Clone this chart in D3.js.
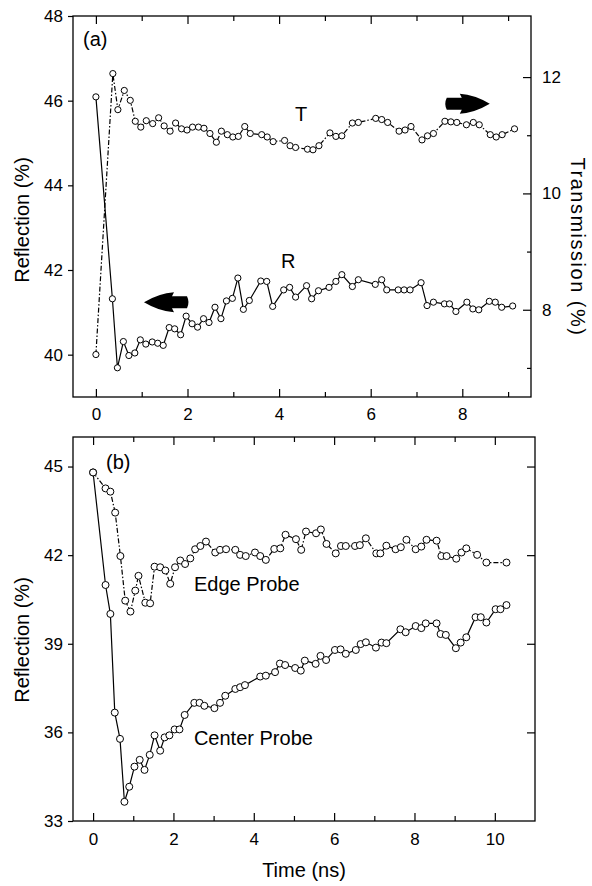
<!DOCTYPE html>
<html>
<head>
<meta charset="utf-8">
<script src="https://cdn.jsdelivr.net/npm/d3@7/dist/d3.min.js"></script>
<style>
  html, body { margin: 0; padding: 0; background: #fff; }
  svg { display: block; }
  text { font-family: "Liberation Sans", Arial, sans-serif; fill: #000; }
</style>
</head>
<body>
<script>
// ---- Panel (a): reflection R (left axis) and transmission T (right axis) ----
const timeR = [0, 0.36, 0.47, 0.6, 0.72, 0.85, 0.97, 1.09, 1.23, 1.35, 1.47, 1.6, 1.72, 1.85, 1.97, 2.1, 2.22, 2.35, 2.47, 2.6, 2.73, 2.85, 2.98, 3.1, 3.22, 3.35, 3.6, 3.73, 3.86, 4.1, 4.23, 4.36, 4.6, 4.71, 4.86, 5.09, 5.24, 5.37, 5.6, 5.73, 6.1, 6.24, 6.35, 6.6, 6.73, 6.86, 7.1, 7.23, 7.37, 7.61, 7.72, 7.86, 8.1, 8.23, 8.36, 8.59, 8.72, 8.86, 9.1];
const reflR = [46.09, 41.32, 39.69, 40.31, 39.98, 40.04, 40.35, 40.25, 40.3, 40.27, 40.22, 40.64, 40.61, 40.47, 40.91, 40.73, 40.65, 40.85, 40.76, 41.12, 40.85, 41.27, 41.33, 41.81, 41.07, 41.28, 41.74, 41.73, 41.14, 41.53, 41.59, 41.36, 41.63, 41.32, 41.51, 41.59, 41.73, 41.89, 41.61, 41.77, 41.66, 41.77, 41.53, 41.53, 41.53, 41.53, 41.7, 41.16, 41.24, 41.2, 41.2, 41.02, 41.24, 41.08, 41.06, 41.26, 41.24, 41.12, 41.15];

const timeT = [0, 0.37, 0.48, 0.62, 0.75, 0.86, 0.98, 1.1, 1.24, 1.37, 1.49, 1.62, 1.74, 1.87, 1.99, 2.11, 2.24, 2.36, 2.49, 2.63, 2.74, 2.87, 2.99, 3.11, 3.25, 3.37, 3.62, 3.74, 3.87, 4.12, 4.24, 4.36, 4.62, 4.74, 4.87, 5.11, 5.24, 5.37, 5.6, 5.73, 6.11, 6.24, 6.37, 6.62, 6.75, 6.88, 7.12, 7.24, 7.37, 7.62, 7.75, 7.88, 8.09, 8.24, 8.37, 8.61, 8.74, 8.87, 9.14];
const transT = [7.23, 12.06, 11.44, 11.77, 11.6, 11.24, 11.14, 11.25, 11.2, 11.3, 11.16, 11.07, 11.21, 11.11, 11.09, 11.14, 11.14, 11.12, 11.03, 10.88, 11.07, 11.01, 10.97, 10.98, 11.15, 11.03, 11.01, 10.97, 10.89, 10.91, 10.82, 10.79, 10.76, 10.75, 10.82, 11.04, 10.98, 10.99, 11.21, 11.22, 11.29, 11.27, 11.22, 11.07, 11.09, 11.15, 10.92, 10.99, 11.03, 11.24, 11.23, 11.22, 11.18, 11.22, 11.18, 11.01, 10.97, 11.01, 11.11];

// ---- Panel (b): edge probe and center probe reflection ----
const timeEdge = [0, 0.31, 0.43, 0.55, 0.68, 0.8, 0.93, 1.05, 1.13, 1.3, 1.42, 1.53, 1.67, 1.8, 1.92, 2.04, 2.17, 2.29, 2.42, 2.54, 2.67, 2.81, 3.04, 3.16, 3.31, 3.54, 3.66, 3.8, 4.03, 4.16, 4.3, 4.51, 4.66, 4.79, 5.05, 5.18, 5.3, 5.55, 5.67, 5.81, 6.04, 6.17, 6.29, 6.52, 6.64, 6.79, 7.05, 7.15, 7.3, 7.53, 7.66, 7.8, 8.03, 8.17, 8.3, 8.55, 8.67, 8.8, 9.04, 9.17, 9.29, 9.56, 9.79, 10.29];
const reflEdge = [44.8, 44.26, 44.15, 43.44, 41.97, 40.46, 40.09, 40.8, 41.3, 40.39, 40.37, 41.61, 41.59, 41.48, 41.03, 41.59, 41.82, 41.7, 41.89, 42.2, 42.31, 42.46, 42.09, 42.18, 42.2, 42.18, 42.01, 41.97, 42.09, 41.97, 41.84, 42.21, 42.23, 42.69, 42.54, 42.18, 42.8, 42.74, 42.87, 42.38, 42.06, 42.31, 42.31, 42.31, 42.34, 42.57, 42.06, 42.06, 42.32, 42.2, 42.27, 42.52, 42.2, 42.29, 42.52, 42.49, 41.97, 41.97, 41.88, 42.09, 42.23, 42.01, 41.75, 41.75];

const timeCenter = [0, 0.31, 0.43, 0.54, 0.67, 0.78, 0.9, 1.03, 1.16, 1.28, 1.41, 1.53, 1.67, 1.78, 1.9, 2.03, 2.15, 2.28, 2.52, 2.65, 2.77, 3.02, 3.16, 3.29, 3.54, 3.66, 3.78, 4.16, 4.3, 4.53, 4.65, 4.78, 5.03, 5.17, 5.27, 5.54, 5.66, 5.8, 6.02, 6.16, 6.29, 6.54, 6.66, 6.79, 7.04, 7.18, 7.3, 7.65, 7.78, 8.03, 8.17, 8.28, 8.55, 8.65, 8.78, 9.03, 9.15, 9.29, 9.52, 9.65, 9.79, 10.02, 10.14, 10.29];
const reflCenter = [44.8, 40.99, 40.01, 36.67, 35.78, 33.65, 34.16, 34.84, 35.07, 34.73, 35.24, 35.9, 35.38, 35.83, 35.9, 36.1, 36.1, 36.59, 37.0, 37.0, 36.9, 36.82, 37.0, 37.24, 37.47, 37.53, 37.6, 37.89, 37.92, 38.04, 38.33, 38.28, 38.18, 38.09, 38.43, 38.32, 38.59, 38.45, 38.79, 38.81, 38.66, 38.79, 38.99, 39.05, 38.87, 39.04, 39.02, 39.49, 39.39, 39.6, 39.53, 39.69, 39.69, 39.33, 39.3, 38.85, 39.04, 39.22, 39.9, 39.9, 39.72, 40.17, 40.17, 40.31];

// ---- Tick values ----
const ticksTimeA = [0, 2, 4, 6, 8];
const minorTimeA = [1, 3, 5, 7, 9];
const ticksReflA = [40, 42, 44, 46, 48];
const ticksTransA = [8, 10, 12];
const minorTransA = [7, 9, 11];
const ticksTimeB = [0, 2, 4, 6, 8, 10];
const minorTimeB = [1, 3, 5, 7, 9];
const ticksReflB = [33, 36, 39, 42, 45];

const W = 592, H = 886;
const svg = d3.select("body").append("svg").attr("width", W).attr("height", H);

const zip = (ts, vs) => ts.map((t, i) => ({ t, v: vs[i] }));

// Scales
const xA = d3.scaleLinear().domain([-0.5, 9.5]).range([73, 531]);
const yR = d3.scaleLinear().domain([39, 48]).range([397, 16]);
const yT = d3.scaleLinear().domain([6.5, 13.05]).range([397, 16]);

const xB = d3.scaleLinear().domain([-0.5, 11]).range([73, 535]);
const yB = d3.scaleLinear().domain([33, 46]).range([821, 437]);

const TICK_FONT = 17;
function styleAxis(g) {
  g.select(".domain").remove();
  g.selectAll(".tick line").attr("stroke", "#000").attr("stroke-width", 1.2);
  g.selectAll(".tick text")
    .attr("font-family", '"Liberation Sans", Arial, sans-serif')
    .attr("font-size", TICK_FONT).attr("fill", "#000");
}

function frame(x, y) {
  svg.append("rect")
    .attr("x", x.range()[0]).attr("y", y.range()[1])
    .attr("width", x.range()[1] - x.range()[0])
    .attr("height", y.range()[0] - y.range()[1])
    .attr("fill", "none").attr("stroke", "#000").attr("stroke-width", 1.3);
}

function series(data, x, y, dash, r) {
  const line = d3.line().x(d => x(d.t)).y(d => y(d.v));
  svg.append("path").datum(data)
    .attr("d", line).attr("fill", "none").attr("stroke", "#000")
    .attr("stroke-width", 1.2)
    .attr("stroke-dasharray", dash);
  svg.append("g").selectAll("circle").data(data).join("circle")
    .attr("cx", d => x(d.t)).attr("cy", d => y(d.v)).attr("r", r)
    .attr("fill", "#fff").attr("stroke", "#000").attr("stroke-width", 1);
}

// Fat block arrow pointing left (dir=-1) or right (dir=+1) from its tip
function arrow(tipX, tipY, dir) {
  const head = 30, len = 43, hh = 10, bh = 6;
  const p = d3.path();
  p.moveTo(tipX, tipY);
  p.quadraticCurveTo(tipX - dir * head * 0.5, tipY - hh * 0.9, tipX - dir * head, tipY - hh);
  p.lineTo(tipX - dir * (head - 2), tipY - bh);
  p.lineTo(tipX - dir * len, tipY - bh);
  p.quadraticCurveTo(tipX - dir * (len + 3), tipY, tipX - dir * len, tipY + bh);
  p.lineTo(tipX - dir * (head - 2), tipY + bh);
  p.lineTo(tipX - dir * head, tipY + hh);
  p.quadraticCurveTo(tipX - dir * head * 0.5, tipY + hh * 0.9, tipX, tipY);
  p.closePath();
  svg.append("path").attr("d", p.toString()).attr("fill", "#000");
}

// ===== Panel (a) =====
frame(xA, yR);

svg.append("g").attr("transform", "translate(0,397)")
  .call(d3.axisBottom(xA).tickValues(ticksTimeA).tickSize(-8).tickPadding(11).tickFormat(d3.format("d")))
  .call(styleAxis);
svg.append("g").attr("transform", "translate(0,397)")
  .call(d3.axisBottom(xA).tickValues(minorTimeA).tickSize(-5).tickFormat(""))
  .call(styleAxis);
svg.append("g").attr("transform", "translate(0,16)")
  .call(d3.axisTop(xA).tickValues(ticksTimeA).tickSize(-8).tickFormat(""))
  .call(styleAxis);
svg.append("g").attr("transform", "translate(0,16)")
  .call(d3.axisTop(xA).tickValues(minorTimeA).tickSize(-5).tickFormat(""))
  .call(styleAxis);
svg.append("g").attr("transform", "translate(73,0)")
  .call(d3.axisLeft(yR).tickValues(ticksReflA).tickSize(5).tickPadding(5).tickFormat(d3.format("d")))
  .call(styleAxis);
svg.append("g").attr("transform", "translate(531,0)")
  .call(d3.axisRight(yT).tickValues(ticksTransA).tickSize(-8).tickPadding(11).tickFormat(d3.format("d")))
  .call(styleAxis);
svg.append("g").attr("transform", "translate(531,0)")
  .call(d3.axisRight(yT).tickValues(minorTransA).tickSize(-4).tickFormat(""))
  .call(styleAxis);

series(zip(timeT, transT), xA, yT, "5,2,1.5,2", 3.1);
series(zip(timeR, reflR), xA, yR, null, 3.1);

svg.append("text").attr("x", 83).attr("y", 46).attr("font-size", 20).text("(a)");
svg.append("text").attr("x", xA(4.48)).attr("y", yT(11.24)).attr("text-anchor", "middle").attr("font-size", 20).text("T");
svg.append("text").attr("x", xA(4.2)).attr("y", yR(42.05)).attr("text-anchor", "middle").attr("font-size", 20).text("R");

arrow(xA(1.05), yR(41.24), -1);
arrow(xA(8.6), yT(11.54), 1);

svg.append("text").attr("transform", "translate(29,220) rotate(-90)")
  .attr("text-anchor", "middle").attr("font-size", 20).text("Reflection (%)");
svg.append("text").attr("transform", "translate(571,247) rotate(90)")
  .attr("text-anchor", "middle").attr("font-size", 20).attr("letter-spacing", 1.5)
  .text("Transmission (%)");

// ===== Panel (b) =====
frame(xB, yB);

svg.append("g").attr("transform", "translate(0,821)")
  .call(d3.axisBottom(xB).tickValues(ticksTimeB).tickSize(-8).tickPadding(12).tickFormat(d3.format("d")))
  .call(styleAxis);
svg.append("g").attr("transform", "translate(0,821)")
  .call(d3.axisBottom(xB).tickValues(minorTimeB).tickSize(-5).tickFormat(""))
  .call(styleAxis);
svg.append("g").attr("transform", "translate(0,437)")
  .call(d3.axisTop(xB).tickValues(ticksTimeB).tickSize(-8).tickFormat(""))
  .call(styleAxis);
svg.append("g").attr("transform", "translate(0,437)")
  .call(d3.axisTop(xB).tickValues(minorTimeB).tickSize(-5).tickFormat(""))
  .call(styleAxis);
svg.append("g").attr("transform", "translate(73,0)")
  .call(d3.axisLeft(yB).tickValues(ticksReflB).tickSize(5).tickPadding(5).tickFormat(d3.format("d")))
  .call(styleAxis);
svg.append("g").attr("transform", "translate(535,0)")
  .call(d3.axisRight(yB).tickValues(ticksReflB.slice(1)).tickSize(-8).tickFormat(""))
  .call(styleAxis);

series(zip(timeEdge, reflEdge), xB, yB, "5,2,1.5,2", 3.5);
series(zip(timeCenter, reflCenter), xB, yB, null, 3.5);

svg.append("text").attr("x", 106).attr("y", 469).attr("font-size", 20).text("(b)");
svg.append("text").attr("x", xB(2.51)).attr("y", yB(40.8)).attr("font-size", 20).text("Edge Probe");
svg.append("text").attr("x", xB(2.51)).attr("y", yB(35.57)).attr("font-size", 20).text("Center Probe");

svg.append("text").attr("transform", "translate(29,640) rotate(-90)")
  .attr("text-anchor", "middle").attr("font-size", 20).text("Reflection (%)");
svg.append("text").attr("x", 304).attr("y", 877)
  .attr("text-anchor", "middle").attr("font-size", 20).text("Time (ns)");
</script>
</body>
</html>
